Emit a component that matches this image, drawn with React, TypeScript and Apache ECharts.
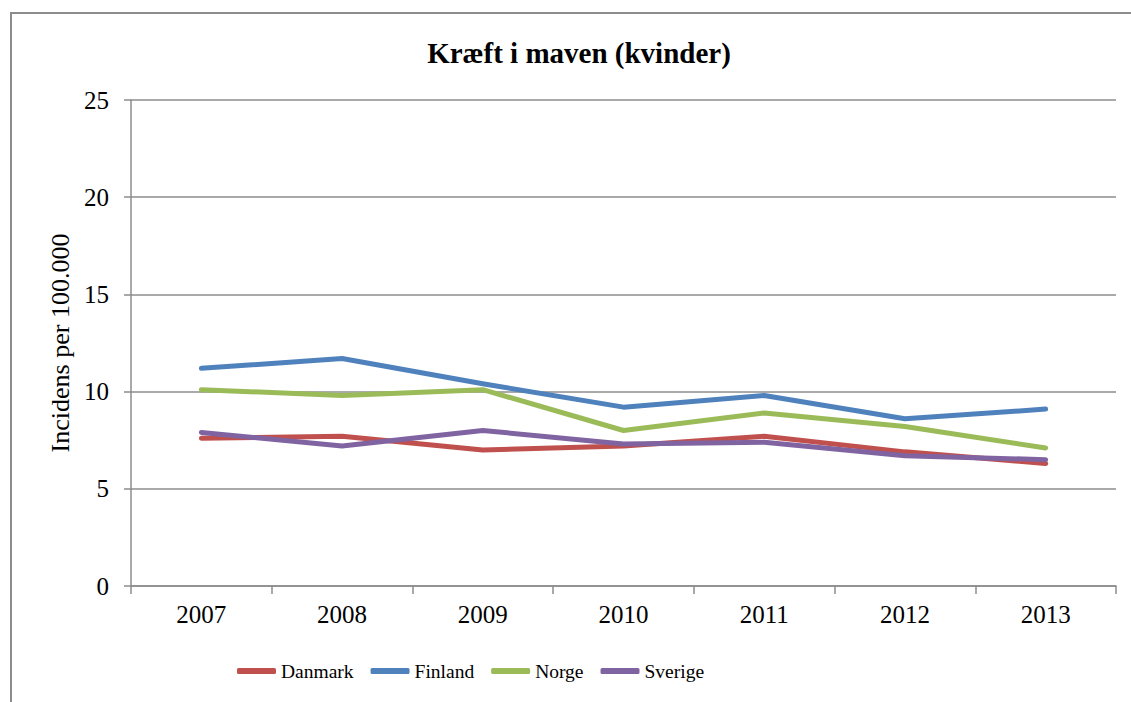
import React, { useEffect, useRef } from "react";
import * as echarts from "echarts";

const years = ["2007", "2008", "2009", "2010", "2011", "2012", "2013"];
const danmark = [7.6, 7.7, 7.0, 7.2, 7.7, 6.9, 6.3];
const finland = [11.2, 11.7, 10.4, 9.2, 9.8, 8.6, 9.1];
const norge = [10.1, 9.8, 10.1, 8.0, 8.9, 8.2, 7.1];
const sverige = [7.9, 7.2, 8.0, 7.3, 7.4, 6.7, 6.5];

const seriesNames = ["Danmark", "Finland", "Norge", "Sverige"];
const seriesData = [danmark, finland, norge, sverige];
const colors = ["#C0504D", "#4F81BD", "#9BBB59", "#8064A2"];

const FONT = "'Liberation Serif', 'Times New Roman', serif";
const GREY = "#8c8c8c";

export default function App() {
  const ref = useRef<HTMLDivElement>(null);
  useEffect(() => {
    if (!ref.current) return;
    const chart = echarts.init(ref.current, undefined, { renderer: "svg" });
    chart.setOption({
      animation: false,
      backgroundColor: "#fff",
      textStyle: { fontFamily: FONT, color: "#000" },
      title: {
        text: "Kræft i maven (kvinder)",
        left: 574,
        top: 33,
        textAlign: "center",
        textStyle: { fontFamily: FONT, fontWeight: "bold", fontSize: 29, color: "#000" },
      },
      graphic: [
        {
          type: "rect",
          shape: { x: 11, y: 13, width: 1300, height: 900 },
          style: { fill: "none", stroke: GREY, lineWidth: 2 },
          silent: true,
        },
      ],
      legend: {
        left: 232,
        top: 656,
        itemWidth: 39,
        itemHeight: 6,
        itemGap: 17,
        icon: "roundRect",
        data: seriesNames,
        textStyle: { fontFamily: FONT, fontSize: 19.5, color: "#000" },
      },
      grid: { left: 131, right: 15, top: 100, bottom: 116, containLabel: false },
      xAxis: {
        type: "category",
        data: years,
        boundaryGap: true,
        axisLine: { lineStyle: { color: GREY, width: 1.5 } },
        axisTick: { show: true, length: 8, alignWithLabel: false, lineStyle: { color: GREY, width: 1.5 } },
        axisLabel: { fontFamily: FONT, fontSize: 25, color: "#000", margin: 16 },
        splitLine: { show: false },
      },
      yAxis: {
        type: "value",
        min: 0,
        max: 25,
        interval: 5,
        name: "Incidens per 100.000",
        nameLocation: "middle",
        nameGap: 58,
        nameTextStyle: { fontFamily: FONT, fontSize: 26, color: "#000" },
        axisLine: { show: true, lineStyle: { color: GREY, width: 1.5 } },
        axisTick: { show: true, length: 7, lineStyle: { color: GREY, width: 1.5 } },
        axisLabel: { fontFamily: FONT, fontSize: 25, color: "#000", margin: 22 },
        splitLine: { show: true, lineStyle: { color: GREY, width: 1.5 } },
      },
      series: seriesNames.map((name, i) => ({
        name,
        type: "line",
        data: seriesData[i],
        symbol: "none",
        color: colors[i],
        lineStyle: { width: 5, color: colors[i], cap: "round", join: "round" },
      })),
    });
    return () => chart.dispose();
  }, []);
  return (
    <div
      ref={ref}
      style={{ position: "absolute", left: 0, top: 0, width: 1131, height: 702 }}
    />
  );
}
